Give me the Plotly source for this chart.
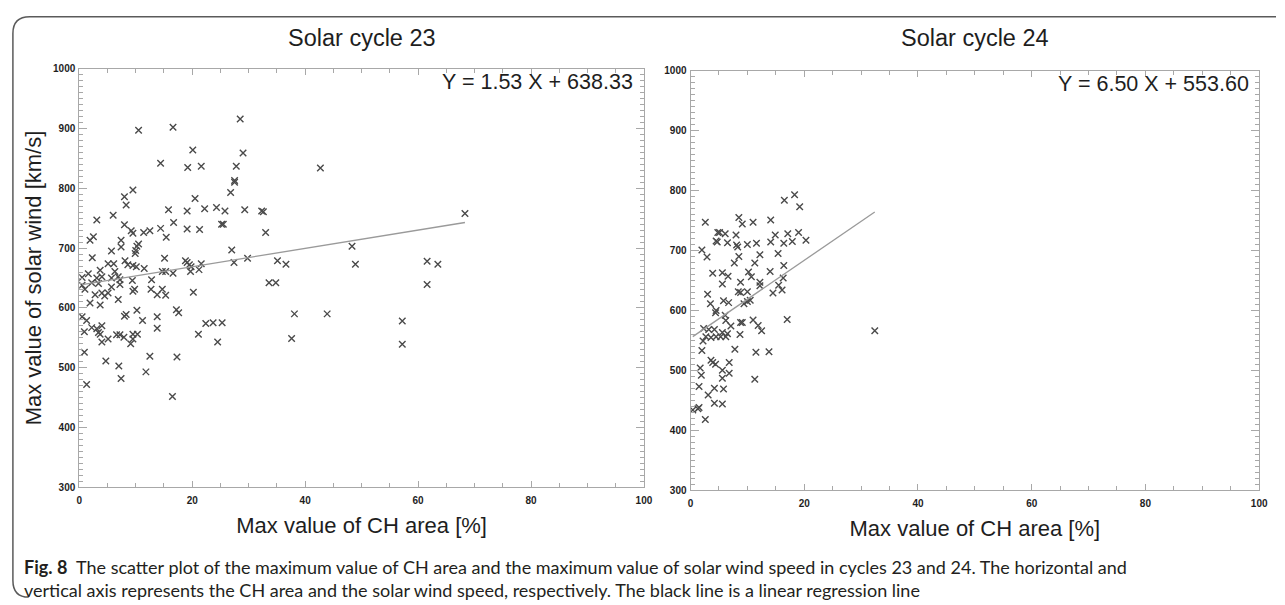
import plotly.graph_objects as go

W, H = 1285, 605

# ---------------- data ----------------
cycle23_x = [10.5,16.6,28.5,20.1,29.0,14.4,19.2,21.6,27.8,42.7,
             27.5,27.5,26.8,9.5,8.0,20.5,8.3,15.8,19.1,22.2,
             24.3,25.8,29.3,32.3,32.6,3.1,6.0,16.7,25.2,25.5,
             8.0,14.4,19.1,21.3,12.5,11.4,9.2,9.5,33.0,2.5,
             1.9,15.4,7.4,10.5,10.2,10.0,9.9,7.4,5.7,27.0,
             2.3,15.1,6.1,5.1,8.1,8.6,9.5,10.1,11.5,18.8,
             19.1,19.5,19.8,21.6,27.4,29.8,35.1,36.6,33.6,34.8,
             3.7,6.3,6.9,7.2,5.7,4.0,1.6,0.5,2.2,3.1,
             12.8,14.7,15.3,16.6,19.7,21.2,9.4,9.8,9.5,6.9,
             20.2,14.7,12.7,15.3,13.8,4.0,2.8,4.5,5.1,1.0,
             0.5,3.4,5.7,7.2,
             1.9,3.7,0.5,1.3,0.9,2.2,3.1,3.4,4.0,3.7,
             4.0,5.1,6.6,7.2,7.9,8.3,8.0,9.1,9.5,9.5,
             10.3,10.2,11.2,13.8,13.8,17.2,17.6,21.1,22.4,23.7,
             25.3,24.5,37.6,38.1,43.9,0.9,1.3,4.7,7.0,7.4,
             11.8,12.5,17.3,16.5,
             68.3,48.3,48.9,61.6,63.5,61.6,57.2,57.2]
cycle23_y = [897,902,916,864,859,842,835,837,837,834,
             813,810,793,797,786,783,772,764,762,766,
             768,762,764,762,761,747,755,743,740,740,
             739,733,732,731,729,726,729,725,726,719,
             713,718,713,707,703,696,691,702,695,697,
             684,683,674,674,679,672,671,669,666,679,
             676,672,669,674,676,683,679,673,642,642,
             663,661,652,647,650,652,657,651,642,650,
             647,661,661,658,661,664,646,631,628,614,
             626,631,631,621,622,625,622,620,625,631,
             638,641,635,639,
             608,605,585,579,560,567,565,559,570,556,
             543,548,555,555,551,589,586,540,548,556,
             556,596,579,585,566,597,592,556,574,575,
             575,543,549,590,590,526,472,511,503,482,
             493,519,518,452,
             758,703,673,678,673,639,578,539]

cycle24_x = [18.3,16.5,19.2,8.5,9.1,11.0,14.1,2.6,4.8,5.1,
             6.1,8.0,4.5,4.7,6.5,8.3,8.1,10.0,11.6,14.1,
             14.9,16.4,17.1,17.9,19.0,20.3,2.0,2.9,8.5,12.2,
             15.4,7.7,11.3,16.4,3.9,5.6,10.2,5.6,6.6,8.8,
             10.7,12.2,12.2,14.0,16.3,15.5,16.1,14.5,3.0,8.4,
             8.8,10.0,3.5,5.8,6.7,9.4,10.0,10.5,4.5,4.4,
             6.1,6.2,8.8,9.1,11.0,17.0,11.9,12.5,7.1,8.7,
             2.3,3.2,4.2,5.6,6.5,4.5,3.6,2.7,5.3,6.2,
             2.2,2.0,7.8,11.5,13.8,3.6,3.9,6.8,4.4,1.7,
             5.6,1.9,6.8,5.6,11.3,1.5,4.2,5.8,3.1,4.2,
             5.6,1.5,1.3,0.4,2.6,32.4]
cycle24_y = [793,784,773,755,744,747,751,747,730,730,
             728,726,716,714,713,706,709,710,712,714,
             726,712,728,715,730,717,701,689,690,693,
             695,679,679,675,662,663,664,644,657,647,
             656,647,641,665,654,642,634,629,627,631,
             630,631,611,616,613,611,615,617,600,596,
             592,583,580,580,584,585,575,566,574,560,
             570,568,568,563,561,556,555,556,556,556,
             549,533,535,530,531,517,513,513,510,504,
             500,492,495,487,485,473,470,469,459,445,
             444,438,436,434,418,566]

fit_slope = [1.53, 6.50]
fit_intercept = [638.33, 553.60]
panel_titles = ["Solar cycle 23", "Solar cycle 24"]
x_ticks = [0, 20, 40, 60, 80, 100]
y_ticks = [300, 400, 500, 600, 700, 800, 900, 1000]

# ---------------- layout helpers ----------------
def px_x(p):
    return p / W

def px_y(p):
    return 1 - p / H

left_dom_x = [px_x(77), px_x(647)]
left_dom_y = [px_y(491), px_y(64)]
right_dom_x = [px_x(694), px_x(1268)]
right_dom_y = [px_y(494), px_y(66)]

AX_COL = "#a8a8a8"
TXT = "#1e1e1e"
MARK = "#4a4a4a"
FONT = "Liberation Sans, Arial"

fig = go.Figure()

datasets = [(cycle23_x, cycle23_y, "x", "y"), (cycle24_x, cycle24_y, "x2", "y2")]
for i, (xs, ys, xa, ya) in enumerate(datasets):
    fig.add_trace(go.Scatter(
        x=xs, y=ys, mode="markers", xaxis=xa, yaxis=ya,
        marker=dict(symbol="x-thin", size=6.5, color=MARK,
                    line=dict(width=1.4, color=MARK)),
        showlegend=False, hoverinfo="x+y"))
    x0, x1 = min(xs), max(xs)
    fig.add_trace(go.Scatter(
        x=[x0, x1],
        y=[fit_slope[i] * x0 + fit_intercept[i], fit_slope[i] * x1 + fit_intercept[i]],
        mode="lines", xaxis=xa, yaxis=ya,
        line=dict(color="#9a9a9a", width=1.3),
        showlegend=False, hoverinfo="skip"))

def xaxis_cfg(dom, anchor):
    return dict(domain=dom, anchor=anchor, range=[0, 100],
                tickmode="array", tickvals=x_ticks, ticktext=[str(v) for v in x_ticks],
                ticks="inside", ticklen=6, tickwidth=1, tickcolor=AX_COL,
                showline=True, linecolor=AX_COL, linewidth=1, mirror="ticks",
                showgrid=False, zeroline=False,
                minor=dict(dtick=5, ticks="inside", ticklen=4, tickcolor=AX_COL, showgrid=False),
                tickfont=dict(family=FONT, size=10, color=TXT, weight="bold"),
                ticklabelstandoff=4,
                title=dict(text="Max value of CH area [%]",
                           font=dict(family=FONT, size=22, color=TXT),
                           standoff=12))

def yaxis_cfg(dom, anchor, title):
    d = dict(domain=dom, anchor=anchor, range=[300, 1000],
             tickmode="array", tickvals=y_ticks, ticktext=[str(v) for v in y_ticks],
             ticks="inside", ticklen=8, tickwidth=1, tickcolor=AX_COL,
             showline=True, linecolor=AX_COL, linewidth=1, mirror="ticks",
             showgrid=False, zeroline=False,
             minor=dict(dtick=10, ticks="inside", ticklen=4, tickcolor=AX_COL, showgrid=False),
             tickfont=dict(family=FONT, size=10, color=TXT, weight="bold"),
             ticklabelstandoff=1)
    if title:
        d["title"] = dict(text=title, font=dict(family=FONT, size=22, color=TXT),
                          standoff=5)
    return d

fig.update_layout(
    width=W, height=H,
    margin=dict(l=0, r=0, t=0, b=0),
    paper_bgcolor="white", plot_bgcolor="white",
    xaxis=xaxis_cfg(left_dom_x, "y"),
    yaxis=yaxis_cfg(left_dom_y, "x", "Max value of solar wind [km/s]"),
    xaxis2=xaxis_cfg(right_dom_x, "y2"),
    yaxis2=yaxis_cfg(right_dom_y, "x2", None),
)

annotations = []
for i, dom in enumerate([left_dom_x, right_dom_x]):
    annotations.append(dict(
        text=panel_titles[i], xref="paper", yref="paper",
        x=(dom[0] + dom[1]) / 2, y=px_y(33), xanchor="center", yanchor="middle",
        showarrow=False, font=dict(family=FONT, size=23.5, color=TXT)))
    xr = "x domain" if i == 0 else "x2 domain"
    yr = "y domain" if i == 0 else "y2 domain"
    annotations.append(dict(
        text=f"Y = {fit_slope[i]:.2f} X + {fit_intercept[i]:.2f}",
        xref=xr, yref=yr, x=0.985, y=0.968, xanchor="right", yanchor="middle",
        showarrow=False, font=dict(family=FONT, size=21.5, color=TXT)))

cap1 = ("<b>Fig. 8</b>  The scatter plot of the maximum value of CH area and the maximum value of "
        "solar wind speed in cycles 23 and 24. The horizontal and")
cap2 = ("vertical axis represents the CH area and the solar wind speed, respectively. "
        "The black line is a linear regression line")
for txt, yp in [(cap1, 572), (cap2, 596)]:
    annotations.append(dict(
        text=txt, xref="paper", yref="paper", x=px_x(19), y=px_y(yp),
        xanchor="left", yanchor="middle", showarrow=False, align="left",
        font=dict(family="Lato, Open Sans, sans-serif", size=18, color="#231f20")))

fig.update_layout(annotations=annotations)

# rounded frame
def P(x, y):
    return f"{px_x(x):.5f},{px_y(y):.5f}"

path = (f"M {P(1285, 11)} L {P(27, 11)} Q {P(10, 11)} {P(10, 28)} "
        f"L {P(10, 586)} Q {P(10, 603)} {P(26, 603)}")
fig.add_shape(type="path", path=path, xref="paper", yref="paper",
              line=dict(color="#5a5a5a", width=1.5))

fig.write_html("out.html")
